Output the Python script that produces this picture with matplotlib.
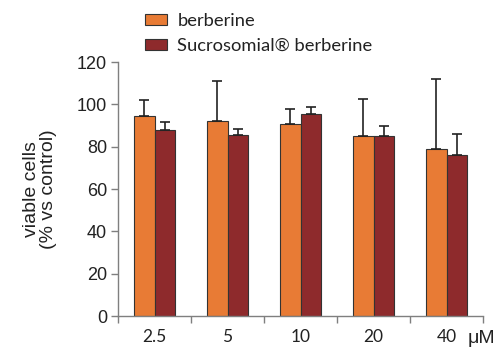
import matplotlib
matplotlib.use("Agg")
import matplotlib.pyplot as plt
import numpy as np

plt.rcParams['font.family'] = ['Liberation Sans', 'DejaVu Sans']

conc = ['2.5', '5', '10', '20', '40']
berberine = [94.5, 92, 90.5, 85, 79]
berberine_err = [7.7, 19, 7.5, 17.5, 33]
sucro = [88, 85.5, 95.5, 85, 76]
sucro_err = [3.8, 2.7, 3.2, 4.8, 10.2]

c_orange = '#E87B35'
c_red = '#8E2A2C'
axcol = '#7f7f7f'
txt = '#222222'

fig = plt.figure(figsize=(4.99, 3.47), dpi=100)
ax = fig.add_axes([0.2365, 0.0893, 0.7315, 0.732])

x = np.arange(len(conc))
w = 0.283
err_kw = dict(ecolor='#222222', elinewidth=1.2, capsize=3.5, capthick=1.2)
ax.bar(x - w / 2, berberine, w, yerr=[np.zeros(5), berberine_err], color=c_orange,
       edgecolor='#333333', linewidth=0.8, label='berberine', error_kw=err_kw)
ax.bar(x + w / 2, sucro, w, yerr=[np.zeros(5), sucro_err], color=c_red,
       edgecolor='#333333', linewidth=0.8, label='Sucrosomial® berberine', error_kw=err_kw)

ax.set_xlim(-0.5, 4.5)
ax.set_ylim(0, 120)
ax.set_yticks(range(0, 121, 20))
ax.set_xticks(np.arange(-0.5, 4.6, 1))
ax.set_xticklabels([])
ax.set_xticks(x, minor=True)
ax.set_xticklabels(conc, minor=True, family=['Lato', 'DejaVu Sans'])
ax.tick_params(axis='x', which='minor', length=0, labelsize=12.5, pad=9, colors=txt)
ax.tick_params(axis='x', which='major', length=5, width=1, color=axcol)
ax.tick_params(axis='y', length=5, width=1, color=axcol, labelsize=13, labelcolor=txt, pad=3)

for s in ['top', 'right']:
    ax.spines[s].set_visible(False)
for s in ['left', 'bottom']:
    ax.spines[s].set_color(axcol)
    ax.spines[s].set_linewidth(1)

ax.set_ylabel('viable cells\n(% vs control)', fontsize=14, color=txt, labelpad=14,
              linespacing=1.05)
ax.text(4.29, -0.088, 'μM', transform=ax.get_xaxis_transform(), fontsize=14,
        color=txt, ha='left', va='center')

leg = fig.legend(loc='upper left', bbox_to_anchor=(0.258, 1.01), frameon=False,
                 prop={'family': ['Lato', 'DejaVu Sans'], 'size': 13.2},
                 handlelength=1.2, handleheight=0.55,
                 labelspacing=0.5, handletextpad=0.55)
for t in leg.get_texts():
    t.set_color(txt)

fig.savefig('out.png', dpi=100)
